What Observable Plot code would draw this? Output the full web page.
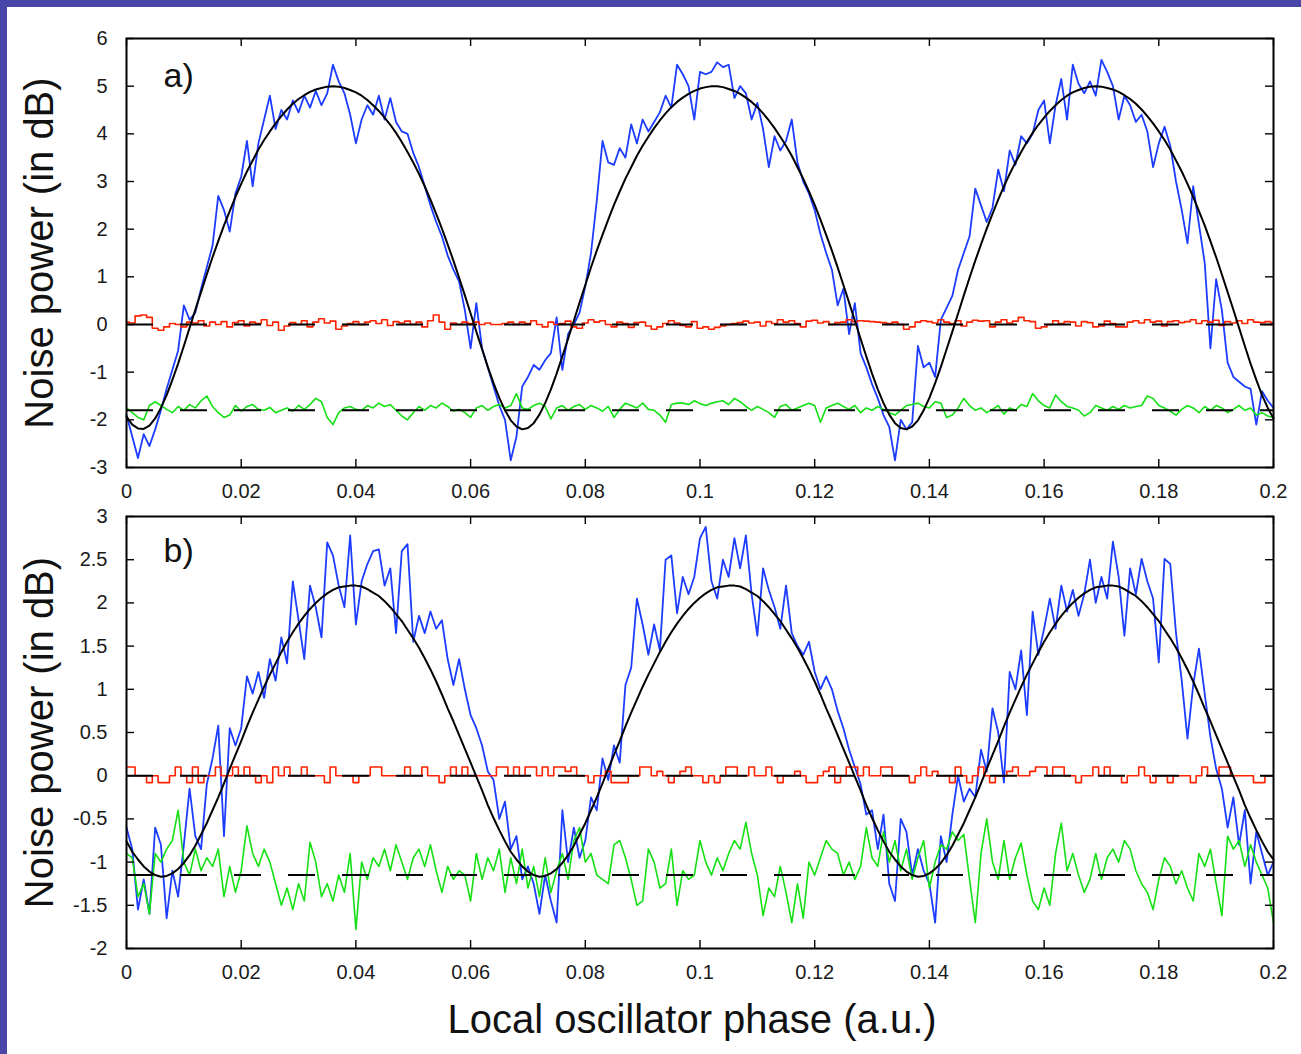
<!DOCTYPE html>
<html><head><meta charset="utf-8">
<script src="https://cdn.jsdelivr.net/npm/d3@7"></script>
<script src="https://cdn.jsdelivr.net/npm/@observablehq/plot@0.6"></script>
<style>
html,body{margin:0;padding:0;background:#fff;}
#page{position:relative;width:1301px;height:1054px;background:#fff;overflow:hidden;}
.bar-top{position:absolute;left:0;top:0;width:1301px;height:7px;background:#4846a8;}
.bar-left{position:absolute;left:0;top:0;width:7px;height:1054px;background:#4846a8;}
#pa{position:absolute;left:0;top:0;}
#pb{position:absolute;left:0;top:505px;}
</style></head><body>
<div id="page"><div id="pa"></div><div id="pb"></div><div class="bar-top"></div><div class="bar-left"></div></div>
<script>
// ---- shared axis data ----
const phaseStep = 0.001; // samples every 0.001 a.u. from 0 to 0.2
const xTicks = [0, 0.02, 0.04, 0.06, 0.08, 0.1, 0.12, 0.14, 0.16, 0.18, 0.2];
const xLabels = ["0", "0.02", "0.04", "0.06", "0.08", "0.1", "0.12", "0.14", "0.16", "0.18", "0.2"];
const yTitle = "Noise power (in dB)";
const xTitle = "Local oscillator phase (a.u.)";

// ---- panel a ----
const yTicksA = [-3, -2, -1, 0, 1, 2, 3, 4, 5, 6];
const yLabelsA = ["-3", "-2", "-1", "0", "1", "2", "3", "4", "5", "6"];
const refLevelsA = [0, -1.8];
const fitA = [-1.93,-2.10,-2.18,-2.19,-2.12,-1.97,-1.75,-1.48,-1.16,-0.82,
-0.45,-0.07,0.31,0.68,1.05,1.41,1.75,2.08,2.38,2.68,
2.95,3.21,3.44,3.67,3.87,4.05,4.22,4.37,4.51,4.63,
4.73,4.81,4.88,4.93,4.96,4.99,5.00,4.99,4.96,4.92,
4.87,4.80,4.71,4.60,4.48,4.34,4.19,4.02,3.83,3.62,
3.40,3.16,2.90,2.62,2.32,2.01,1.68,1.34,0.98,0.61,
0.23,-0.15,-0.52,-0.89,-1.23,-1.54,-1.80,-2.01,-2.14,-2.20,
-2.17,-2.07,-1.89,-1.65,-1.36,-1.03,-0.67,-0.30,0.08,0.46,
0.83,1.20,1.55,1.88,2.20,2.51,2.79,3.06,3.30,3.54,
3.75,3.94,4.12,4.28,4.43,4.56,4.67,4.76,4.84,4.90,
4.95,4.98,5.00,5.00,4.98,4.94,4.90,4.84,4.76,4.67,
4.56,4.43,4.28,4.12,3.94,3.75,3.54,3.30,3.06,2.79,
2.51,2.20,1.88,1.55,1.20,0.83,0.46,0.08,-0.30,-0.67,
-1.03,-1.36,-1.65,-1.89,-2.07,-2.17,-2.20,-2.14,-2.01,-1.80,
-1.54,-1.23,-0.89,-0.52,-0.15,0.23,0.61,0.98,1.34,1.68,
2.01,2.32,2.62,2.90,3.16,3.40,3.62,3.83,4.02,4.19,
4.34,4.48,4.60,4.71,4.80,4.87,4.92,4.96,4.99,5.00,
4.99,4.96,4.93,4.88,4.81,4.73,4.63,4.51,4.37,4.22,
4.05,3.87,3.67,3.44,3.21,2.95,2.68,2.38,2.08,1.75,
1.41,1.05,0.68,0.31,-0.07,-0.45,-0.82,-1.16,-1.48,-1.75,
-1.97];
const blueA = [-1.90,-2.35,-2.80,-2.30,-2.55,-2.20,-1.80,-1.35,-0.95,-0.55,
0.40,0.10,0.25,0.75,1.20,1.65,2.70,2.40,1.95,2.75,
3.10,3.85,2.90,3.80,4.30,4.80,4.10,4.50,4.30,4.70,
4.45,4.80,4.55,4.90,4.60,4.85,5.45,5.10,4.85,4.40,
3.80,4.30,4.60,4.40,4.80,4.30,4.75,4.25,4.05,4.00,
3.60,3.30,2.90,2.50,2.15,1.85,1.45,1.15,0.90,0.30,
-0.50,0.45,-0.50,-0.90,-1.30,-1.70,-2.00,-2.85,-2.35,-1.30,
-1.10,-0.85,-0.95,-0.75,-0.60,0.15,-0.95,-0.20,0.00,0.25,
0.80,1.50,2.60,3.85,3.40,3.35,3.70,3.50,4.20,3.80,
4.30,4.05,4.25,4.45,4.80,4.55,5.45,5.25,5.00,4.30,
5.30,5.25,5.30,5.50,5.40,5.45,4.75,5.00,4.85,4.30,
4.65,4.10,3.30,3.95,3.65,3.85,4.30,3.40,3.00,2.75,
2.40,1.90,1.50,1.15,0.40,0.75,-0.20,0.45,-0.60,-0.90,
-1.25,-1.55,-1.90,-2.15,-2.85,-2.00,-2.20,-2.05,-0.45,-0.90,
-0.80,-1.10,0.10,0.35,0.60,1.15,1.50,1.85,2.85,2.50,
2.15,2.45,3.25,2.80,3.65,3.35,3.95,3.80,4.00,4.50,
4.70,3.80,4.60,5.15,4.30,5.45,5.05,4.85,5.10,4.80,
5.55,5.30,5.00,4.30,4.80,4.60,4.25,4.40,4.05,3.30,
3.80,4.15,3.75,3.00,2.40,1.70,2.90,2.10,1.30,-0.50,
0.95,0.30,-0.80,-1.10,-1.20,-1.30,-1.35,-2.10,-1.40,-1.60,
-1.75];
const redA = [0.05,0.03,0.18,0.20,0.15,-0.08,-0.12,-0.05,0.02,0.00,
-0.05,0.05,0.03,0.08,-0.03,0.05,0.00,0.06,-0.05,0.04,
0.08,-0.03,0.05,0.02,0.10,-0.02,0.05,-0.12,-0.03,0.04,
0.00,0.08,-0.05,0.05,0.12,0.03,0.07,-0.10,-0.03,0.02,
0.06,0.00,0.05,0.08,0.02,0.10,-0.02,0.06,0.03,0.07,
0.00,0.05,-0.05,0.08,0.20,0.05,-0.10,0.03,0.00,0.05,
0.02,0.05,0.00,0.03,0.00,0.00,0.02,0.05,0.00,0.05,
0.02,0.08,0.00,-0.05,0.05,0.00,0.02,0.07,-0.05,-0.08,
0.03,0.10,0.05,0.08,0.00,-0.05,0.05,0.02,-0.06,0.04,
0.05,-0.03,-0.10,-0.05,0.02,0.08,0.03,-0.02,-0.05,0.06,
-0.08,-0.05,-0.10,-0.06,-0.03,0.00,0.02,0.04,0.07,0.03,
0.05,-0.03,0.06,0.02,0.10,0.05,0.08,0.02,-0.05,0.07,
0.09,0.03,0.06,0.00,0.04,0.05,0.10,0.06,0.08,0.07,
0.06,0.05,0.04,0.02,0.05,0.00,-0.10,-0.05,0.05,0.08,
0.06,0.03,0.10,0.05,0.02,0.08,-0.03,0.05,0.09,0.07,
0.08,-0.05,0.05,0.10,0.03,0.07,0.15,0.08,0.06,-0.08,
-0.05,0.00,0.08,0.02,0.06,0.05,-0.03,0.06,0.04,-0.05,
-0.03,0.07,0.02,-0.05,-0.05,0.05,0.08,0.03,0.10,0.05,
0.07,-0.03,0.06,0.08,0.04,0.06,0.10,0.02,0.08,0.05,
0.09,-0.02,0.06,0.03,0.08,0.02,0.10,0.05,0.04,0.06,
0.03];
const greenA = [-1.75,-1.85,-1.95,-2.00,-1.70,-1.62,-1.70,-1.78,-1.85,-1.72,
-1.80,-1.68,-1.75,-1.60,-1.50,-1.72,-1.85,-1.95,-1.90,-1.70,
-1.82,-1.72,-1.68,-1.78,-1.80,-1.74,-1.85,-1.80,-1.75,-1.82,
-1.70,-1.78,-1.68,-1.55,-1.62,-1.95,-2.10,-1.85,-1.75,-1.72,
-1.78,-1.80,-1.70,-1.75,-1.65,-1.72,-1.68,-1.80,-1.92,-2.00,
-1.85,-1.72,-1.80,-1.70,-1.75,-1.65,-1.72,-1.82,-1.78,-1.85,
-1.95,-1.75,-1.70,-1.80,-1.72,-1.68,-1.75,-1.70,-1.45,-1.75,
-1.78,-1.70,-1.65,-1.72,-1.98,-1.75,-1.70,-1.80,-1.72,-1.68,
-1.78,-1.70,-1.75,-1.82,-1.72,-1.95,-1.78,-1.65,-1.70,-1.75,
-1.65,-1.78,-1.80,-1.90,-2.05,-1.68,-1.65,-1.65,-1.68,-1.60,
-1.66,-1.70,-1.65,-1.62,-1.60,-1.68,-1.55,-1.62,-1.72,-1.80,
-1.72,-1.78,-1.85,-1.95,-1.72,-1.68,-1.80,-1.75,-1.70,-1.65,
-1.70,-2.05,-1.75,-1.70,-1.65,-1.72,-1.78,-1.70,-1.85,-1.75,
-1.80,-1.72,-1.78,-1.85,-1.90,-1.80,-1.70,-1.68,-1.65,-1.72,
-1.75,-1.62,-1.65,-1.95,-1.90,-1.75,-1.55,-1.70,-1.80,-1.75,
-1.85,-1.78,-1.70,-1.88,-1.75,-1.80,-1.68,-1.72,-1.45,-1.60,
-1.70,-1.75,-1.48,-1.62,-1.72,-1.75,-1.80,-1.92,-1.85,-1.70,
-1.75,-1.80,-1.72,-1.78,-1.70,-1.75,-1.72,-1.70,-1.50,-1.55,
-1.70,-1.75,-1.82,-1.90,-1.78,-1.70,-1.75,-1.85,-1.72,-1.80,
-1.70,-1.75,-1.85,-1.78,-1.70,-1.80,-1.75,-1.90,-1.85,-1.92,
-1.95];

// ---- panel b ----
const yTicksB = [-2, -1.5, -1, -0.5, 0, 0.5, 1, 1.5, 2, 2.5, 3];
const yLabelsB = ["-2", "-1.5", "-1", "-0.5", "0", "0.5", "1", "1.5", "2", "2.5", "3"];
const refLevelsB = [0, -1.15];
const fitB = [-0.76,-0.88,-0.97,-1.05,-1.11,-1.15,-1.17,-1.16,-1.13,-1.08,
-1.01,-0.92,-0.81,-0.68,-0.55,-0.40,-0.25,-0.09,0.08,0.24,
0.40,0.57,0.73,0.88,1.03,1.17,1.30,1.43,1.55,1.66,
1.76,1.85,1.93,2.00,2.06,2.11,2.15,2.18,2.19,2.20,
2.20,2.19,2.16,2.12,2.08,2.02,1.95,1.87,1.79,1.69,
1.59,1.48,1.36,1.23,1.09,0.94,0.78,0.63,0.47,0.31,
0.15,-0.01,-0.17,-0.34,-0.49,-0.63,-0.76,-0.88,-0.97,-1.05,
-1.11,-1.15,-1.17,-1.16,-1.13,-1.08,-1.01,-0.92,-0.81,-0.68,
-0.55,-0.40,-0.25,-0.09,0.08,0.24,0.40,0.57,0.73,0.88,
1.03,1.17,1.30,1.43,1.55,1.66,1.76,1.85,1.93,2.00,
2.06,2.11,2.15,2.18,2.19,2.20,2.20,2.19,2.16,2.12,
2.08,2.02,1.95,1.87,1.79,1.69,1.59,1.48,1.36,1.23,
1.09,0.94,0.78,0.63,0.47,0.31,0.15,-0.01,-0.17,-0.34,
-0.49,-0.63,-0.76,-0.88,-0.97,-1.05,-1.11,-1.15,-1.17,-1.16,
-1.13,-1.08,-1.01,-0.92,-0.81,-0.68,-0.55,-0.40,-0.25,-0.09,
0.08,0.24,0.40,0.57,0.73,0.88,1.03,1.17,1.30,1.43,
1.55,1.66,1.76,1.85,1.93,2.00,2.06,2.11,2.15,2.18,
2.19,2.20,2.20,2.19,2.16,2.12,2.08,2.02,1.95,1.87,
1.79,1.69,1.59,1.48,1.36,1.23,1.09,0.94,0.78,0.63,
0.47,0.31,0.15,-0.01,-0.17,-0.34,-0.49,-0.63,-0.76,-0.88,
-0.97];
const blueB = [-0.60,-0.85,-1.55,-1.20,-1.60,-0.60,-0.80,-1.65,-1.10,-1.40,
-0.80,-0.15,-0.70,-0.85,-0.10,0.20,0.58,-0.70,0.55,0.35,
0.55,1.15,0.95,1.20,0.90,1.35,1.10,1.60,1.30,2.25,
1.80,1.35,2.20,1.95,1.60,2.70,2.55,2.20,1.95,2.78,
1.75,2.25,2.45,2.60,2.62,2.20,2.40,1.65,2.60,2.68,
1.55,1.85,1.65,1.90,1.70,1.80,1.35,1.05,1.35,1.00,
0.70,0.55,0.35,0.05,-0.05,-0.50,-0.30,-0.85,-0.70,-1.20,
-1.05,-1.25,-1.60,-1.15,-1.45,-1.70,-0.40,-1.00,-0.60,-0.95,
-0.75,-0.25,-0.40,0.20,-0.05,0.35,0.15,1.05,1.25,2.05,
1.75,1.40,1.75,1.45,2.50,2.55,1.88,2.30,2.10,2.30,
2.75,2.88,2.25,2.05,2.50,2.30,2.75,2.40,2.78,2.10,
1.62,2.40,2.15,1.95,1.70,2.20,1.65,1.50,1.40,1.55,
1.20,1.00,1.15,1.00,0.75,0.55,0.30,0.10,-0.10,-0.45,
-0.40,-0.85,-0.45,-1.25,-1.45,-0.50,-0.65,-1.15,-0.85,-1.10,
-1.25,-1.70,-0.70,-1.00,-0.45,0.00,-0.30,-0.15,-0.25,0.30,
0.05,0.78,0.50,-0.08,1.20,1.00,1.45,0.70,1.90,1.40,
1.70,2.05,1.70,2.20,1.90,2.15,1.85,2.10,2.50,2.00,
2.30,2.05,2.71,2.30,1.62,2.40,2.10,2.51,2.25,2.05,
1.31,2.51,2.45,1.65,1.10,0.43,1.05,1.47,0.95,0.45,
0.08,-0.15,-0.60,-0.25,-0.80,-0.40,-1.25,-0.65,-0.90,-1.15,
-1.00];
const redB = [0.10,0.10,0.00,0.00,-0.08,0.00,-0.08,-0.08,0.00,0.10,
0.00,-0.08,0.10,-0.08,0.00,0.00,0.10,0.00,0.00,0.10,
0.00,0.10,0.00,-0.08,0.00,-0.08,0.10,0.00,0.10,0.00,
0.00,0.10,0.00,0.00,0.00,-0.08,0.10,0.00,0.00,0.00,
-0.08,0.00,0.00,0.10,0.10,0.00,0.00,0.00,0.00,0.10,
0.00,0.00,0.10,0.00,0.00,-0.08,0.00,0.10,0.00,0.10,
0.00,0.00,0.00,0.00,0.00,0.10,0.10,0.00,0.10,0.00,
0.10,0.10,0.00,0.10,0.00,0.10,0.10,0.05,0.10,0.00,
0.00,-0.08,0.00,0.00,0.05,-0.08,-0.08,-0.08,0.00,0.00,
0.10,0.10,0.00,0.05,0.00,-0.08,0.00,0.05,0.10,0.00,
0.00,-0.08,0.00,-0.08,0.00,0.10,0.10,0.00,0.00,0.10,
0.00,0.00,0.10,0.00,-0.08,0.00,0.00,0.05,0.00,-0.08,
-0.08,0.00,0.05,0.10,-0.08,0.00,0.10,0.10,0.00,0.10,
0.00,0.00,0.10,0.10,0.00,0.00,0.00,-0.08,0.00,0.10,
0.00,0.05,0.00,0.00,-0.08,0.10,0.00,-0.08,0.00,0.10,
0.00,-0.08,0.00,0.00,0.05,0.10,0.00,0.00,0.05,0.10,
0.10,0.00,0.10,0.10,0.00,0.00,-0.08,0.00,0.00,0.10,
0.00,0.10,0.00,0.00,-0.08,0.00,0.00,0.10,0.00,-0.08,
0.00,0.00,-0.08,0.00,0.00,0.00,-0.08,0.00,0.10,0.00,
0.00,0.10,0.10,0.00,0.00,0.00,0.00,-0.08,-0.08,0.00,
0.00];
const greenB = [-0.90,-0.95,-1.40,-1.25,-1.60,-0.90,-1.00,-0.85,-0.75,-0.40,
-1.00,-1.15,-0.85,-1.10,-0.95,-1.05,-0.85,-1.40,-1.05,-1.35,
-1.10,-0.58,-0.90,-1.05,-0.85,-1.00,-1.25,-1.50,-1.30,-1.55,
-1.25,-1.45,-0.77,-1.00,-1.40,-1.25,-1.45,-1.15,-1.35,-0.90,
-1.78,-1.00,-1.20,-0.95,-1.05,-0.85,-1.10,-0.80,-1.00,-1.20,
-0.95,-0.85,-1.05,-0.80,-1.10,-1.35,-1.05,-1.20,-1.10,-1.15,
-1.45,-0.90,-1.20,-0.95,-1.10,-0.85,-1.35,-0.95,-1.25,-0.85,
-1.30,-1.05,-1.40,-0.95,-1.35,-1.10,-0.90,-1.20,-0.75,-0.60,
-1.00,-0.90,-1.15,-1.20,-1.25,-0.80,-0.75,-0.95,-1.20,-1.50,
-1.45,-0.85,-1.00,-1.30,-1.25,-0.85,-1.50,-1.10,-1.20,-1.15,
-0.75,-1.00,-1.15,-0.95,-1.10,-0.90,-0.75,-0.85,-0.54,-0.90,
-1.15,-1.62,-1.30,-1.40,-1.05,-1.35,-1.70,-1.25,-1.65,-1.00,
-1.15,-0.95,-0.75,-0.85,-0.90,-1.15,-1.00,-1.20,-1.05,-0.60,
-0.95,-1.05,-0.65,-1.00,-0.75,-1.10,-0.85,-1.20,-0.95,-0.75,
-1.30,-1.00,-0.80,-0.85,-0.65,-0.75,-0.68,-1.20,-1.70,-0.90,
-0.50,-1.00,-1.20,-0.75,-1.20,-0.95,-0.78,-1.15,-1.45,-1.55,
-1.30,-1.50,-0.90,-0.55,-1.10,-0.90,-1.15,-1.35,-1.20,-0.90,
-1.20,-0.95,-0.85,-1.00,-0.75,-0.85,-1.10,-1.25,-1.35,-1.55,
-1.20,-0.95,-1.05,-1.25,-1.10,-1.30,-1.45,-0.90,-1.05,-0.85,
-1.25,-1.62,-0.70,-0.85,-0.75,-1.05,-0.80,-1.00,-1.15,-1.30,
-1.70];

// ---- drawing ----
const COLORS = {blue: "#1c3cff", red: "#ff2200", green: "#14e014", black: "#000"};
const FONT = "'Liberation Sans', Arial, Helvetica, sans-serif";
const W = 1301, ML = 126, MR = 28;

function series(values) {
  return values.map((v, i) => ({phase: i * phaseStep, power: v}));
}

function panel(o) {
  const plotH = o.height - o.marginTop - o.marginBottom;
  const plotW = W - ML - MR;
  const yFmt = new Map(o.yTicks.map((t, i) => [t, o.yLabels[i]]));
  const xFmt = new Map(xTicks.map((t, i) => [t, xLabels[i]]));
  const marks = [
    Plot.line(series(o.blue), {x: "phase", y: "power", stroke: COLORS.blue, strokeWidth: 1.8}),
    Plot.line(series(o.red), {x: "phase", y: "power", stroke: COLORS.red, strokeWidth: 1.6, curve: "step"}),
    Plot.line(series(o.green), {x: "phase", y: "power", stroke: COLORS.green, strokeWidth: 1.6}),
    Plot.line(series(o.fit), {x: "phase", y: "power", stroke: COLORS.black, strokeWidth: 2}),
    Plot.ruleY(o.refs, {y: d => d, stroke: COLORS.black, strokeWidth: 2, strokeDasharray: "27,27"}),
    Plot.frame({stroke: "#000", strokeWidth: 2}),
    Plot.ruleX(xTicks, {x: d => d, insetTop: plotH - 8, stroke: "#000", strokeWidth: 1.4}),
    Plot.ruleX(xTicks, {x: d => d, insetBottom: plotH - 8, stroke: "#000", strokeWidth: 1.4}),
    Plot.ruleY(o.yTicks, {y: d => d, insetRight: plotW - 8, stroke: "#000", strokeWidth: 1.4}),
    Plot.ruleY(o.yTicks, {y: d => d, insetLeft: plotW - 8, stroke: "#000", strokeWidth: 1.4}),
    Plot.axisX({ticks: xTicks, tickSize: 0, tickPadding: 16, fontSize: 20, label: null, tickFormat: d => xFmt.get(d)}),
    Plot.axisY({ticks: o.yTicks, tickSize: 0, tickPadding: 19, fontSize: 20, label: null, tickFormat: d => yFmt.get(d)}),
    Plot.text([yTitle], {text: d => d, frameAnchor: "left", dx: -86, rotate: -90, textAnchor: "middle", lineAnchor: "middle", fontSize: 40, fill: "#111"}),
    Plot.text([o.tag], {text: d => d, frameAnchor: "top-left", dx: 37, dy: o.tagDy, fontSize: 34, textAnchor: "start", lineAnchor: "top", fill: "#111"})
  ];
  if (o.xTitle) {
    marks.push(Plot.text([o.xTitle], {text: d => d, frameAnchor: "bottom", dx: -8, dy: 72, textAnchor: "middle", lineAnchor: "middle", fontSize: 40, fill: "#111"}));
  }
  return Plot.plot({
    width: W, height: o.height,
    marginLeft: ML, marginRight: MR, marginTop: o.marginTop, marginBottom: o.marginBottom,
    x: {domain: [0, 0.2]},
    y: {domain: o.yDomain},
    style: {fontFamily: FONT, fontSize: "20px", color: "#1a1a1a", background: "transparent", overflow: "visible"},
    marks
  });
}

document.getElementById("pa").appendChild(panel({
  blue: blueA, red: redA, green: greenA, fit: fitA, refs: refLevelsA,
  yDomain: [-3, 6], yTicks: yTicksA, yLabels: yLabelsA, tag: "a)", tagDy: 24,
  height: 505, marginTop: 38, marginBottom: 38
}));
document.getElementById("pb").appendChild(panel({
  blue: blueB, red: redB, green: greenB, fit: fitB, refs: refLevelsB,
  yDomain: [-2, 3], yTicks: yTicksB, yLabels: yLabelsB, tag: "b)", tagDy: 21,
  height: 549, marginTop: 11, marginBottom: 106, xTitle: xTitle
}));
</script>
</body></html>
